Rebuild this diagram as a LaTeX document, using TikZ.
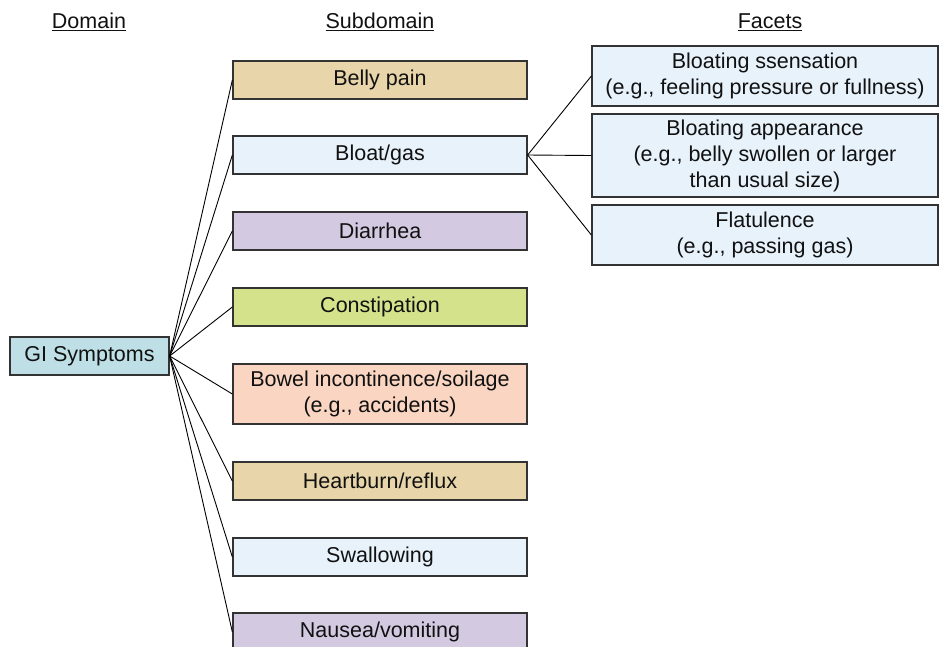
\documentclass[tikz,border=0pt]{standalone}
\usepackage{fontspec}
\setmainfont{Liberation Sans}
\definecolor{tan}{HTML}{E8D6AA}
\definecolor{lblue}{HTML}{E8F2FB}
\definecolor{lav}{HTML}{D3C9E1}
\definecolor{lgreen}{HTML}{D4E38B}
\definecolor{peach}{HTML}{FAD6C2}
\definecolor{gib}{HTML}{BEDFE6}
\definecolor{bord}{HTML}{333333}
\definecolor{txt}{HTML}{111111}
\tikzset{
  box/.style={draw=bord, line width=1.3pt, rectangle, inner sep=0pt, align=center,
    text=txt, font=\fontsize{21.5}{26}\selectfont},
  sub/.style={box, minimum width=294pt, minimum height=38pt},
  facet/.style={box, minimum width=346pt},
  head/.style={text=txt, font=\fontsize{21.5}{26}\selectfont, inner sep=0pt},
  conn/.style={draw=black, line width=0.9pt}
}
\begin{document}
\begin{tikzpicture}[x=1pt,y=-1pt]
\clip (0,0) rectangle (939,646);
\fill[white] (0,0) rectangle (939,646);
\node[head] (hdom) at (89,22) {\underline{Domain}};
\node[head] (hsub) at (380,22) {\underline{Subdomain}};
\node[head] (hfac) at (770,22) {\underline{Facets}};

\node[box, fill=gib, minimum width=159pt, minimum height=38pt] (gi) at (89.5,356) {GI Symptoms};

\node[sub, fill=tan] (belly) at (380,80) {Belly pain};
\node[sub, fill=lblue] (bloat) at (380,155) {Bloat/gas};
\node[sub, fill=lav] (diar) at (380,231) {Diarrhea};
\node[sub, fill=lgreen] (const) at (380,307) {Constipation};
\node[sub, fill=peach, minimum height=60pt] (bowel) at (380,394) {Bowel incontinence/soilage\\(e.g., accidents)};
\node[sub, fill=tan] (heart) at (380,481) {Heartburn/reflux};
\node[sub, fill=lblue] (swal) at (380,557) {Swallowing};
\node[sub, fill=lav] (naus) at (380,632) {Nausea/vomiting};

\node[facet, fill=lblue, minimum height=60pt] (sens) at (765,76) {Bloating ssensation\\(e.g., feeling pressure or fullness)};
\node[facet, fill=lblue, minimum height=83pt] (appr) at (765,155.5) {Bloating appearance\\(e.g., belly swollen or larger\\than usual size)};
\node[facet, fill=lblue, minimum height=60pt] (flat) at (765,235) {Flatulence\\(e.g., passing gas)};

\foreach \t in {belly,bloat,diar,const,bowel,heart,swal,naus}
  \draw[conn] (gi.east) -- (\t.west);
\foreach \t in {sens,appr,flat}
  \draw[conn] (bloat.east) -- (\t.west);
\end{tikzpicture}
\end{document}
